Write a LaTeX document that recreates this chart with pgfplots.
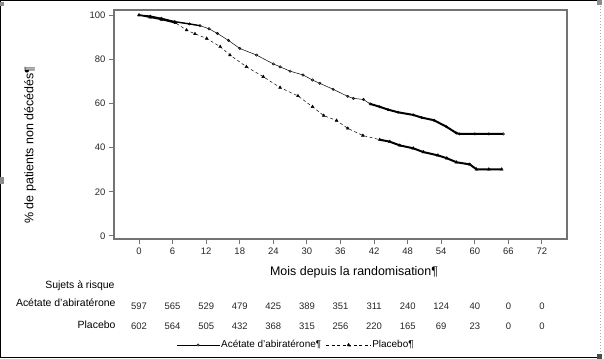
\documentclass[border=0pt]{standalone}
\usepackage{pgfplots}
\usepackage{pgfplotstable}
\pgfplotsset{compat=1.18}
\usepackage{fontspec}
\setmainfont{Liberation Sans}

\newcommand\abilegimg{\draw[black,line width=0.5bp] (0bp,0bp) -- (43bp,0bp); \draw[black, line width=0.5bp, fill=white] (21bp,0bp) circle (1.2bp);}
\newcommand\plalegimg{\draw[black,line width=0.5bp, dash pattern=on 3bp off 2.5bp] (0bp,0bp) -- (45bp,0bp); \fill[black] (22.5bp,2bp) -- (20.6bp,-1.2bp) -- (24.4bp,-1.2bp) -- cycle;}

\pgfplotstableread{
m s
0 100
2 99.5
4 98.5
6.4 97
9 96
10.9 95.2
12.5 93.8
14 91.7
16 88.5
18 84.9
21 81.9
24 77.9
25.2 76.6
27 74.6
29.3 72.9
31 70.6
32.3 69.1
34.7 66.4
37.3 63.2
38.3 62.3
40.1 61.8
41.3 59.8
43 58.5
44.5 57.2
46.3 56
49 54.8
50.5 53.6
52.7 52.4
54.9 49.5
56.7 46.6
57.3 46.2
60 46.2
62.5 46.2
65.1 46.2
}\abitab

\pgfplotstableread{
m s
0 100
2 99
4 98
6.5 96.5
8.5 93.2
10 91.5
12.1 89.4
14.5 85.7
16.25 81.9
19.2 76.6
22.2 72.1
25.2 67.2
28.4 63.4
31 58.5
33 54.5
35.3 52.3
37.3 48.7
40 45.5
43 43.6
44.8 42.7
46.6 41
49 39.7
50.8 38
53.4 36.5
55 35.2
56.7 33.4
59.1 32.4
60.3 30.2
62.5 30.2
64.8 30.2
}\platab

\begin{document}
\begin{tikzpicture}
\path[use as bounding box] (-114bp,-120bp) rectangle (490bp,239bp);
% outer frame
\draw[black, line width=1.5bp] (-113.25bp,-118.6bp) -- (-113.25bp,238.25bp) -- (483bp,238.25bp);
\draw[black, line width=1.5bp] (-113.25bp,-118.6bp) -- (487bp,-118.6bp);
\draw[black!35, line width=1bp, dash pattern=on 1.5bp off 1.5bp] (486.5bp,236bp) -- (486.5bp,-117bp);
\fill[black!45] (483bp,234bp) rectangle (487.5bp,239bp);
\fill[black!45] (-114bp,55bp) rectangle (-110bp,62bp);
\fill[black!45] (-114bp,233bp) rectangle (-110bp,237bp);
\fill[black!70] (483bp,-120bp) rectangle (487.5bp,-115bp);

\begin{axis}[
  at={(0bp,0bp)}, anchor=south west,
  scale only axis, width=453bp, height=229bp,
  xmin=-4.47, xmax=76.47, ymin=-1.36, ymax=102.3,
  xtick={0,6,...,72}, ytick={0,20,...,100},
  tick pos=left, tick align=outside, major tick length=5bp,
  axis line style={draw=black!55, line width=1.3bp},
  every tick/.style={black!55, line width=1bp},
  tick label style={font=\fontsize{9.5}{11}\selectfont, text=black!85},
  /pgf/number format/assume math mode=true,
  clip=false,
  xlabel={Mois depuis la randomisation¶},
  xlabel style={at={(axis description cs:0.53,-0.144)}, anchor=center, font=\fontsize{12.5}{14}\selectfont},
  ylabel={\% de patients non décédés¶},
  ylabel style={at={(axis description cs:-0.185,0.41)}, anchor=center, rotate=0, font=\fontsize{12.5}{14}\selectfont},
  legend style={at={(axis description cs:0.401,-0.463)}, anchor=center, draw=none, fill=none,
     legend columns=2, font=\fontsize{10}{12}\selectfont, inner sep=0pt,
     nodes={inner sep=0.8bp},
     /tikz/every even column/.append style={column sep=4bp}},
  legend cell align=left,
]
\addplot[black, line width=0.5bp, mark=o, mark size=1.2bp, mark options={solid, line width=0.5bp},
  legend image code/.code={\abilegimg}]
  table[x=m,y=s] {\abitab};
\addlegendentry{Acétate d’abiratérone¶}
\addplot[black, line width=0.5bp, dash pattern=on 3bp off 2.5bp, mark=triangle*, mark size=1.6bp, mark options={solid},
  legend image code/.code={\plalegimg}]
  table[x=m,y=s] {\platab};
\addlegendentry{Placebo¶}
% dense censoring appears as heavier stroke
\addplot[forget plot, black, line width=2bp, restrict x to domain=41:66] table[x=m,y=s] {\abitab};
\addplot[forget plot, black, line width=2bp, restrict x to domain=42.5:66] table[x=m,y=s] {\platab};
\addplot[forget plot, black, line width=1.4bp, restrict x to domain=0:11] table[x=m,y=s] {\abitab};
\addplot[forget plot, black, line width=1.4bp, restrict x to domain=0:6.5] table[x=m,y=s] {\platab};
\end{axis}

% risk table
\node[anchor=base east, font=\fontsize{10.5}{12}\selectfont] at (4bp,-49.3bp) {Sujets à risque};
\node[anchor=base east, font=\fontsize{10.5}{12}\selectfont] at (5bp,-67.7bp) {Acétate d’abiratérone};
\node[anchor=base east, font=\fontsize{10.5}{12}\selectfont] at (5bp,-89.3bp) {Placebo};
\foreach \m/\a/\p in {0/597/602, 6/565/564, 12/529/505, 18/479/432, 24/425/368, 30/389/315, 36/351/256, 42/311/220, 48/240/165, 54/124/69, 60/40/23, 66/0/0, 72/0/0} {
  \pgfmathsetmacro\xx{25+5.597*\m}
  \node[anchor=base, font=\fontsize{9.5}{11}\selectfont, text=black!85] at (\xx bp,-70bp) {\a};
  \node[anchor=base, font=\fontsize{9.5}{11}\selectfont, text=black!85] at (\xx bp,-90bp) {\p};
}
\end{tikzpicture}
\end{document}
